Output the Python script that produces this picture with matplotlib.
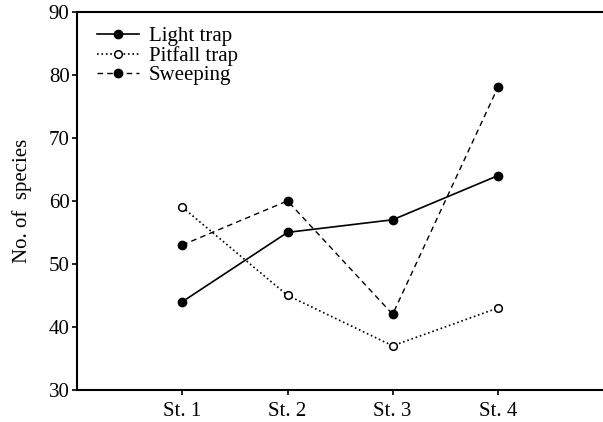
import matplotlib.pyplot as plt
import numpy as np

plt.rcParams['font.family'] = ['Liberation Serif', 'DejaVu Serif']

# data
stations = ['St. 1', 'St. 2', 'St. 3', 'St. 4']
light_trap = [44, 55, 57, 64]
pitfall_trap = [59, 45, 37, 43]
sweeping = [53, 60, 42, 78]

x = np.arange(1, len(stations) + 1)

fig = plt.figure(figsize=(6.03, 4.22), dpi=100)
ax = fig.add_axes([0.128, 0.076, 0.872, 0.896])

ax.plot(x, light_trap, '-', color='black', lw=1.2, marker='o', ms=6,
        mfc='black', mec='black', label='Light trap')
ax.plot(x, pitfall_trap, ':', color='black', lw=1.2, marker='o', ms=5.5,
        mfc='white', mec='black', mew=1.1, label='Pitfall trap')
ax.plot(x, sweeping, '--', color='black', lw=1.0, marker='o', ms=6,
        mfc='black', mec='black', dashes=(4, 3), label='Sweeping')

ax.set_xlim(0, 5)
ax.set_ylim(30, 90)
ax.set_xticks(x)
ax.set_xticklabels(stations)
ax.set_yticks(range(30, 91, 10))
ax.set_ylabel('No. of  species', fontsize=15, labelpad=12)
ax.tick_params(labelsize=15, direction='out', length=3.5, width=1.2, pad=2)
ax.tick_params(axis='x', pad=5)

ax.spines['right'].set_visible(False)
for s in ['left', 'bottom', 'top']:
    ax.spines[s].set_linewidth(1.5)

ax.legend(loc='upper left', bbox_to_anchor=(0.01, 1.0), frameon=False,
          fontsize=15, handlelength=2.0, labelspacing=0.0,
          borderaxespad=0.3, handletextpad=0.5)

fig.savefig('out.png', dpi=100)
